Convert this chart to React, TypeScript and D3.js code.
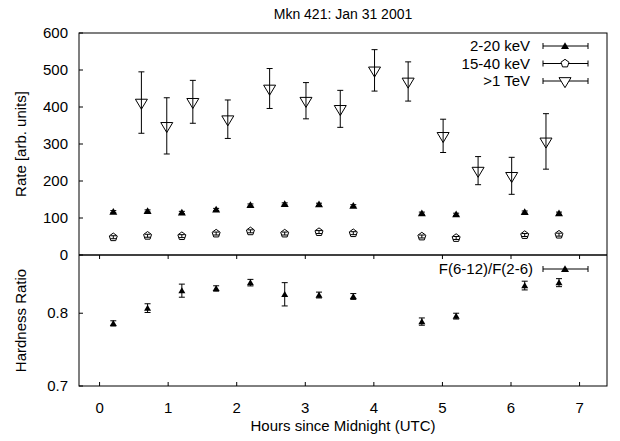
import React from "react";
import * as d3 from "d3";

const xrayHours = [0.2, 0.7, 1.2, 1.7, 2.2, 2.7, 3.2, 3.7, 4.7, 5.2, 6.2, 6.7];
const rate2to20 = [117, 119, 115, 123, 135, 138, 137, 133, 113, 110, 116, 113];
const rate2to20Err = [3, 3, 3, 3, 3, 3, 3, 3, 3, 3, 3, 3];
const rate15to40 = [48, 52, 51, 58, 64, 58, 62, 59, 50, 46, 54, 55];
const rate15to40Err = [4, 4, 4, 4, 4, 4, 4, 4, 4, 4, 4, 4];

const tevHours = [0.61, 0.98, 1.36, 1.87, 2.48, 3.01, 3.51, 4.01, 4.5, 5.01, 5.52, 6.01, 6.51];
const tevRate = [412, 349, 414, 367, 450, 417, 395, 499, 469, 322, 228, 214, 307];
const tevErr = [83, 76, 58, 52, 54, 49, 50, 56, 53, 45, 38, 50, 75];

const hardness = [0.786, 0.807, 0.831, 0.834, 0.842, 0.826, 0.825, 0.823, 0.7885, 0.796, 0.838, 0.842];
const hardnessErr = [0.0036, 0.006, 0.009, 0.0037, 0.0045, 0.016, 0.004, 0.004, 0.005, 0.004, 0.006, 0.0055];

const xTicks = [0, 1, 2, 3, 4, 5, 6, 7];
const topTicks = [0, 100, 200, 300, 400, 500, 600];
const botTicks = [0.7, 0.8];

const seriesLabels = ["2-20 keV", "15-40 keV", ">1 TeV"];
const hardnessLabel = "F(6-12)/F(2-6)";

const FONT = "'Liberation Sans', Arial, Helvetica, sans-serif";
const FS = 15;

const L = 79, R = 607, TOP = 33, MID = 255, BOT = 386;

const x = d3.scaleLinear().domain([-0.3, 7.4]).range([L, R]);
const yTop = d3.scaleLinear().domain([0, 600]).range([MID, TOP]);
const yBot = d3.scaleLinear().domain([0.7, 0.88]).range([BOT, MID]);

function upTri(cx: number, cy: number, s = 4) {
  return `M${cx - s},${cy + s * 0.75} L${cx + s},${cy + s * 0.75} L${cx},${cy - s * 0.95} Z`;
}
function downTri(cx: number, cy: number) {
  const w = 6, h = 10;
  return `M${cx - w},${cy - h / 3} L${cx + w},${cy - h / 3} L${cx},${cy + (2 * h) / 3} Z`;
}
function pentagon(cx: number, cy: number, r = 4.2) {
  const pts: string[] = [];
  for (let i = 0; i < 5; i++) {
    const a = -Math.PI / 2 + (i * 2 * Math.PI) / 5;
    pts.push(`${cx + r * Math.cos(a)},${cy + r * Math.sin(a)}`);
  }
  return `M${pts.join(" L")} Z`;
}

function ErrBar({ px, y0, y1, cap = 3 }: { px: number; y0: number; y1: number; cap?: number }) {
  return (
    <g stroke="#000" strokeWidth={1}>
      <line x1={px} x2={px} y1={y0} y2={y1} />
      <line x1={px - cap} x2={px + cap} y1={y0} y2={y0} />
      <line x1={px - cap} x2={px + cap} y1={y1} y2={y1} />
    </g>
  );
}

function LegendLine({ y, children }: { y: number; children?: React.ReactNode }) {
  const x0 = 543, x1 = 588;
  return (
    <g>
      <g stroke="#000" strokeWidth={1}>
        <line x1={x0} x2={x1} y1={y} y2={y} />
        <line x1={x0} x2={x0} y1={y - 3} y2={y + 3} />
        <line x1={x1} x2={x1} y1={y - 3} y2={y + 3} />
      </g>
      {children}
    </g>
  );
}

export default function App() {
  const lx = 565;
  const legY = [46, 63.5, 81];
  return (
    <svg width={620} height={441} style={{ display: "block", position: "absolute", left: 0, top: 0 }} fontFamily={FONT} fontSize={FS}>
      <rect x={0} y={0} width={620} height={441} fill="#fff" />
      <text x={(L + R) / 2} y={19} textAnchor="middle" fontSize={14}>Mkn 421: Jan 31 2001</text>

      {/* top panel ticks */}
      {topTicks.map((t) => (
        <g key={"yt" + t}>
          <line x1={L} x2={L + 4} y1={yTop(t)} y2={yTop(t)} stroke="#000" />
          <text x={68} y={yTop(t) + 5} textAnchor="end">{t}</text>
        </g>
      ))}
      {botTicks.map((t) => (
        <g key={"yb" + t}>
          <line x1={L} x2={L + 4} y1={yBot(t)} y2={yBot(t)} stroke="#000" />
          <text x={68} y={yBot(t) + 5} textAnchor="end">{t.toFixed(1)}</text>
        </g>
      ))}
      {xTicks.map((t) => (
        <g key={"xt" + t}>
          <line x1={x(t)} x2={x(t)} y1={BOT} y2={BOT - 4} stroke="#000" />
          <line x1={x(t)} x2={x(t)} y1={MID} y2={MID + 4} stroke="#000" />
          <text x={x(t)} y={413} textAnchor="middle">{t}</text>
        </g>
      ))}

      {/* borders */}
      <rect x={L} y={TOP} width={R - L} height={BOT - TOP} fill="none" stroke="#000" strokeWidth={1} />
      <line x1={L} x2={R} y1={MID} y2={MID} stroke="#000" strokeWidth={1.5} />

      {/* axis labels */}
      <text transform={`translate(26,${(TOP + MID) / 2}) rotate(-90)`} textAnchor="middle">Rate [arb. units]</text>
      <text transform={`translate(26,${(MID + BOT) / 2}) rotate(-90)`} textAnchor="middle">Hardness Ratio</text>
      <text x={(L + R) / 2} y={431} textAnchor="middle">Hours since Midnight (UTC)</text>

      {/* TeV */}
      {tevHours.map((h, i) => (
        <g key={"tev" + i}>
          <ErrBar px={x(h)} y0={yTop(tevRate[i] + tevErr[i])} y1={yTop(tevRate[i] - tevErr[i])} />
          <path d={downTri(x(h), yTop(tevRate[i]))} fill="none" stroke="#000" />
        </g>
      ))}
      {/* 15-40 keV */}
      {xrayHours.map((h, i) => (
        <g key={"hx" + i}>
          <ErrBar px={x(h)} y0={yTop(rate15to40[i] + rate15to40Err[i])} y1={yTop(rate15to40[i] - rate15to40Err[i])} />
          <path d={pentagon(x(h), yTop(rate15to40[i]))} fill="none" stroke="#000" />
        </g>
      ))}
      {/* 2-20 keV */}
      {xrayHours.map((h, i) => (
        <g key={"sx" + i}>
          <ErrBar px={x(h)} y0={yTop(rate2to20[i] + rate2to20Err[i])} y1={yTop(rate2to20[i] - rate2to20Err[i])} />
          <path d={upTri(x(h), yTop(rate2to20[i]))} fill="#000" />
        </g>
      ))}
      {/* hardness */}
      {xrayHours.map((h, i) => (
        <g key={"hr" + i}>
          <ErrBar px={x(h)} y0={yBot(hardness[i] + hardnessErr[i])} y1={yBot(hardness[i] - hardnessErr[i])} />
          <path d={upTri(x(h), yBot(hardness[i]), 3.5)} fill="#000" />
        </g>
      ))}

      {/* legends */}
      {seriesLabels.map((s, i) => (
        <text key={"lt" + i} x={530} y={legY[i] + 5} textAnchor="end">{s}</text>
      ))}
      <LegendLine y={legY[0]}><path d={upTri(lx, legY[0])} fill="#000" /></LegendLine>
      <LegendLine y={legY[1]}><path d={pentagon(lx, legY[1])} fill="#fff" stroke="#000" /></LegendLine>
      <LegendLine y={legY[2]}><path d={downTri(lx, legY[2])} fill="#fff" stroke="#000" /></LegendLine>

      <text x={533} y={269 + 5} textAnchor="end">{hardnessLabel}</text>
      <LegendLine y={269}><path d={upTri(lx, 269)} fill="#000" /></LegendLine>
    </svg>
  );
}
